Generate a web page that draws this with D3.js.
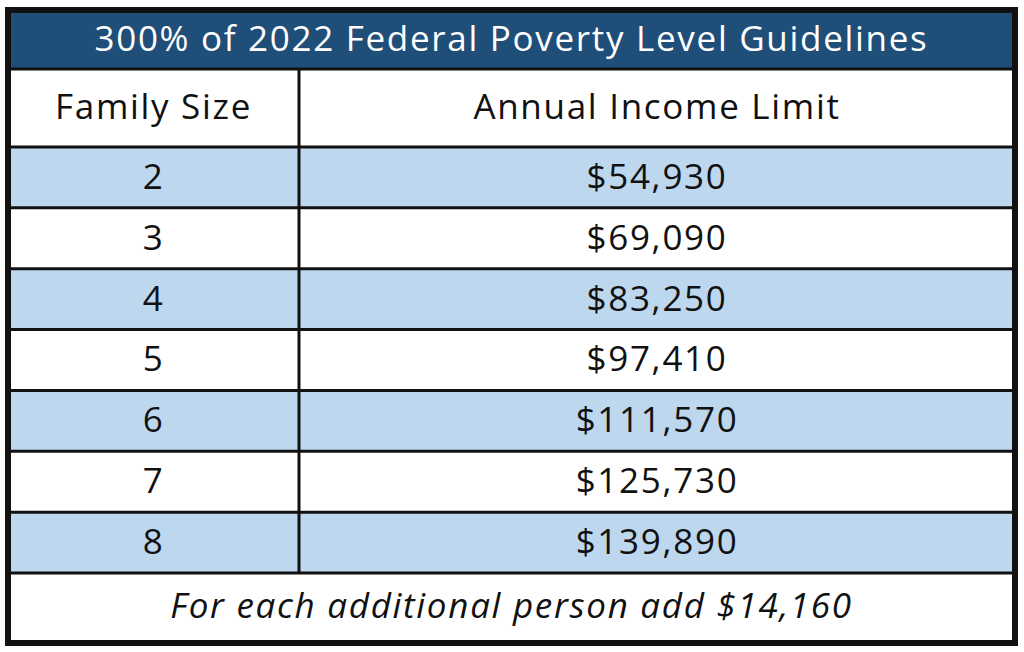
<!DOCTYPE html>
<html>
<head>
<meta charset="utf-8">
<script src="https://cdn.jsdelivr.net/npm/d3@7"></script>
<style>
  body { margin: 0; background: #fff; }
  svg { display: block; }
  text { font-family: "Open Sans", "Lato", sans-serif; letter-spacing: 1.7px; }
</style>
</head>
<body>
<div id="chart"></div>
<script>
var title = "300% of 2022 Federal Poverty Level Guidelines";
var headers = ["Family Size", "Annual Income Limit"];
var familySizes = [2, 3, 4, 5, 6, 7, 8];
var incomeLimits = [54930, 69090, 83250, 97410, 111570, 125730, 139890];
var footnote = "For each additional person add $14,160";

var W = 1024, H = 652;
var frameL = 8, frameR = 1015, frameT = 10, frameB = 643;
var colSplit = 299;
var titleBottom = 69, headBottom = 147, rowsBottom = 573;
var fs = 35;

var svg = d3.select("#chart").append("svg")
  .attr("width", W).attr("height", H);

var fmt = d3.format("$,");

var y = d3.scaleBand()
  .domain(familySizes)
  .range([headBottom, rowsBottom]);

var rows = familySizes.map(function(s, i){ return { size: s, income: incomeLimits[i], i: i }; });

// white background inside the frame
svg.append("rect")
  .attr("x", frameL).attr("y", frameT)
  .attr("width", frameR - frameL).attr("height", frameB - frameT)
  .attr("fill", "#fff");

// title band
svg.append("rect")
  .attr("x", frameL).attr("y", frameT)
  .attr("width", frameR - frameL).attr("height", titleBottom - frameT)
  .attr("fill", "#1f4e79");

svg.append("text")
  .attr("x", (frameL + frameR) / 2).attr("y", (frameT + titleBottom) / 2 + 2)
  .attr("text-anchor", "middle").attr("dominant-baseline", "middle")
  .attr("fill", "#fff").attr("font-size", fs)
  .text(title);

// row fills
svg.selectAll("rect.row")
  .data(rows)
  .enter()
  .append("rect")
  .attr("class", "row")
  .attr("x", frameL).attr("y", function(d){ return y(d.size); })
  .attr("width", frameR - frameL).attr("height", y.bandwidth())
  .attr("fill", function(d){ return d.i % 2 === 0 ? "#bdd7ee" : "#fff"; });

// header
var headX = [(frameL + colSplit) / 2, (colSplit + frameR) / 2];
svg.selectAll("text.head")
  .data(headers)
  .enter()
  .append("text")
  .attr("class", "head")
  .attr("x", function(d, i){ return headX[i]; })
  .attr("y", (titleBottom + headBottom) / 2 + 2)
  .attr("text-anchor", "middle").attr("dominant-baseline", "middle")
  .attr("fill", "#111").attr("font-size", fs)
  .text(function(d){ return d; });

// cells
svg.selectAll("text.size")
  .data(rows)
  .enter()
  .append("text")
  .attr("class", "size")
  .attr("x", headX[0])
  .attr("y", function(d){ return y(d.size) + y.bandwidth() / 2 + 2; })
  .attr("text-anchor", "middle").attr("dominant-baseline", "middle")
  .attr("fill", "#111").attr("font-size", fs)
  .text(function(d){ return d.size; });

svg.selectAll("text.income")
  .data(rows)
  .enter()
  .append("text")
  .attr("class", "income")
  .attr("x", headX[1])
  .attr("y", function(d){ return y(d.size) + y.bandwidth() / 2 + 2; })
  .attr("text-anchor", "middle").attr("dominant-baseline", "middle")
  .attr("fill", "#111").attr("font-size", fs)
  .text(function(d){ return fmt(d.income); });

// footnote
svg.append("text")
  .attr("x", (frameL + frameR) / 2).attr("y", (rowsBottom + frameB) / 2 + 1)
  .attr("text-anchor", "middle").attr("dominant-baseline", "middle")
  .attr("fill", "#111").attr("font-size", fs).attr("font-style", "italic")
  .text(footnote);

// grid lines
var hLines = [titleBottom, headBottom].concat(familySizes.slice(1).map(function(s){ return y(s); }), [rowsBottom]);
svg.selectAll("line.h")
  .data(hLines)
  .enter()
  .append("line")
  .attr("x1", frameL).attr("x2", frameR)
  .attr("y1", function(d){ return d; }).attr("y2", function(d){ return d; })
  .attr("stroke", "#111").attr("stroke-width", 3);

svg.append("line")
  .attr("x1", colSplit).attr("x2", colSplit)
  .attr("y1", titleBottom).attr("y2", rowsBottom)
  .attr("stroke", "#111").attr("stroke-width", 3);

// outer frame
svg.append("rect")
  .attr("x", frameL).attr("y", frameT)
  .attr("width", frameR - frameL).attr("height", frameB - frameT)
  .attr("fill", "none").attr("stroke", "#111").attr("stroke-width", 6);
</script>
</body>
</html>
